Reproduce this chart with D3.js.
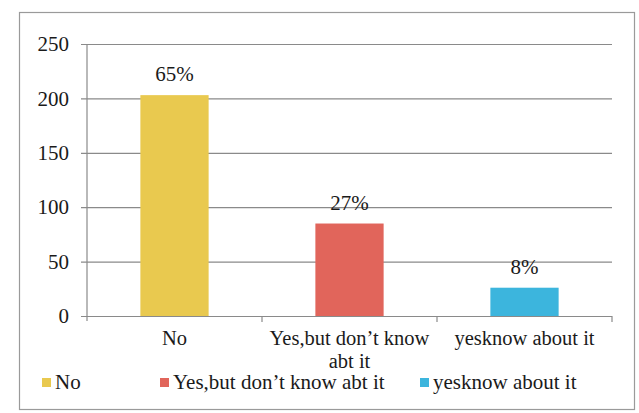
<!DOCTYPE html>
<html>
<head>
<meta charset="utf-8">
<script src="https://cdn.jsdelivr.net/npm/d3@7"></script>
<style>
  html, body { margin: 0; padding: 0; background: #fff; }
  svg { display: block; }
  svg text { font-family: "Liberation Serif", "Times New Roman", "DejaVu Serif" !important; fill: #1a1a1a; }
</style>
</head>
<body>
<svg id="chart" width="639" height="413"></svg>
<script>
// Survey responses: respondent counts per answer
const categories = ["No", "Yes,but don\u2019t know abt it", "yesknow about it"];
const axisLabels = [["No"], ["Yes,but don\u2019t know", "abt it"], ["yesknow about it"]];
const counts = [203, 85, 26];
const percentLabels = ["65%", "27%", "8%"];
const yTicks = [0, 50, 100, 150, 200, 250];
const colors = ["#E9C94F", "#E1655B", "#3CB5DD"];

const serif = "'Liberation Serif', 'Times New Roman'";
const svg = d3.select("#chart");
const plot = { left: 87, right: 612, top: 44, bottom: 316 };

// Outer chart frame
svg.append("rect")
  .attr("x", 19.5).attr("y", 12.5)
  .attr("width", 615).attr("height", 397)
  .attr("fill", "#fff")
  .attr("stroke", "#9a9a9a").attr("stroke-width", 1.2);

const x = d3.scaleBand()
  .domain(categories)
  .range([plot.left, plot.right])
  .paddingInner(0.61)
  .paddingOuter(0.305);

const y = d3.scaleLinear()
  .domain([0, 250])
  .range([plot.bottom, plot.top]);

// Horizontal gridlines with left tick labels
const yAxis = d3.axisLeft(y)
  .tickValues(yTicks)
  .tickSize(-(plot.right - plot.left))
  .tickPadding(18)
  .tickFormat(d3.format("d"));

const gy = svg.append("g")
  .attr("transform", `translate(${plot.left},0)`)
  .call(yAxis)
  .attr("font-family", serif);
gy.select(".domain").remove();
gy.selectAll(".tick line")
  .attr("x1", -6)
  .attr("stroke", "#8a8a8a").attr("stroke-width", 1.2);
gy.selectAll(".tick text")
  .style("font-family", serif)
  .style("font-size", "21px")
  .attr("fill", "#1a1a1a");

// Vertical value axis line
svg.append("line")
  .attr("x1", plot.left).attr("x2", plot.left)
  .attr("y1", y(250)).attr("y2", y(0) + 5)
  .attr("stroke", "#8a8a8a").attr("stroke-width", 1.2);

// Category separator ticks under the baseline
const boundaries = categories.map(c => x(c) + x.bandwidth() + (x.step() - x.bandwidth()) / 2);
svg.selectAll("line.sep")
  .data(boundaries)
  .join("line")
  .attr("class", "sep")
  .attr("x1", d => d).attr("x2", d => d)
  .attr("y1", y(0)).attr("y2", y(0) + 6)
  .attr("stroke", "#8a8a8a").attr("stroke-width", 1.2);

// Bars
svg.selectAll("rect.bar")
  .data(counts)
  .join("rect")
  .attr("class", "bar")
  .attr("x", (d, i) => x(categories[i]))
  .attr("width", x.bandwidth())
  .attr("y", d => y(d))
  .attr("height", d => y(0) - y(d))
  .attr("fill", (d, i) => colors[i]);

// Percentage labels above each bar
svg.selectAll("text.pct")
  .data(counts)
  .join("text")
  .attr("class", "pct")
  .attr("x", (d, i) => x(categories[i]) + x.bandwidth() / 2)
  .attr("y", d => y(d) - 14)
  .attr("text-anchor", "middle")
  .style("font-family", serif)
  .style("font-size", "21px")
  .text((d, i) => percentLabels[i]);

// Category labels under the axis (wrapped onto two lines where long)
axisLabels.forEach((lines, i) => {
  const cx = x(categories[i]) + x.bandwidth() / 2;
  lines.forEach((ln, j) => {
    svg.append("text")
      .attr("x", cx)
      .attr("y", 345 + j * 23)
      .attr("text-anchor", "middle")
      .style("font-family", serif)
      .style("font-size", "20.5px")
      .text(ln);
  });
});

// Legend
const legendX = [42, 160, 420];
const lg = svg.selectAll("g.legend")
  .data(categories)
  .join("g")
  .attr("class", "legend")
  .attr("transform", (d, i) => `translate(${legendX[i]},378)`);
lg.append("rect")
  .attr("width", 9).attr("height", 9)
  .attr("fill", (d, i) => colors[i]);
lg.append("text")
  .attr("x", 13).attr("y", 11)
  .style("font-family", serif)
  .style("font-size", "21px")
  .text(d => d);
</script>
</body>
</html>
